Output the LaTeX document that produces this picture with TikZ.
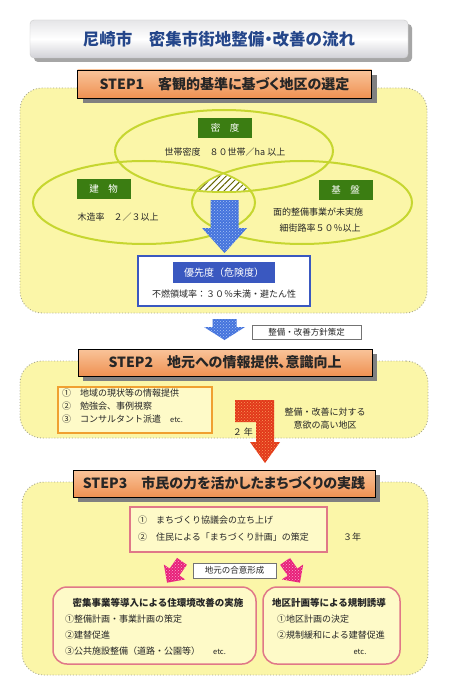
\documentclass[tikz,border=0pt]{standalone}
\usepackage{fontspec}
\setmainfont{Noto Sans CJK JP}
\newfontfamily\jpp{Noto Sans CJK JP}[RawFeature=+palt]
\usetikzlibrary{patterns,patterns.meta,shadows}
\definecolor{areafill}{HTML}{FBF6A8}
\definecolor{areaborder}{HTML}{A8A890}
\definecolor{stepTop}{HTML}{F9C49A}
\definecolor{stepBot}{HTML}{EF9152}
\definecolor{vennline}{HTML}{C6D630}
\definecolor{labgreen}{HTML}{3B7D12}
\definecolor{textc}{HTML}{262626}
\definecolor{titleblue}{HTML}{24468A}
\definecolor{arrblue}{HTML}{4473DC}
\definecolor{arrblueL}{HTML}{A8C4F6}
\definecolor{prioblue}{HTML}{3A58C0}
\definecolor{arrred}{HTML}{E2381A}
\definecolor{arrredL}{HTML}{F89A5A}
\definecolor{arrpink}{HTML}{E8207A}
\definecolor{arrpinkL}{HTML}{F8A8CC}
\definecolor{boxorange}{HTML}{F0A030}
\definecolor{boxpink}{HTML}{E07888}
\definecolor{innerfill}{HTML}{FEFAC8}
\tikzset{
  area/.style={draw=areaborder, dotted, line width=0.9pt, fill=areafill, rounded corners=22pt, inner sep=0},
  stephead/.style={draw=black, line width=0.8pt, top color=stepTop, bottom color=stepBot,
     drop shadow={shadow xshift=5pt, shadow yshift=-5pt, fill=black!50, opacity=1},
     inner sep=0, text=black!85, font=\jpp\bfseries\fontsize{14}{16}\selectfont},
  titlebox/.style={draw=black!20, rounded corners=4pt, top color=blue!10!black!10, bottom color=blue!12!black!18, middle color=white,
     drop shadow={shadow xshift=4pt, shadow yshift=-4pt, fill=black!35, opacity=1},
     inner sep=0, text=titleblue, font=\jpp\bfseries\fontsize{16.5}{18}\selectfont},
  venn/.style={draw=vennline, line width=2pt},
  greenlab/.style={fill=labgreen, text=white, minimum width=54pt, minimum height=20pt, inner sep=0, font=\fontsize{9.5}{11}\selectfont},
  txt/.style={font=\fontsize{9}{11}\selectfont, text=textc, inner sep=0},
  btxt/.style={font=\bfseries\fontsize{9.5}{11}\selectfont, text=textc, inner sep=0},
  etc/.style={font=\fontsize{7.5}{9}\selectfont, text=textc, inner sep=0},
  smallbox/.style={draw=black!55, line width=0.6pt, fill=white, inner sep=0, font=\fontsize{8.5}{10}\selectfont, text=textc},
  blockarrow/.style={preaction={fill=#1}, pattern=crosshatch dots},
}
\begin{document}
\begin{tikzpicture}[x=1pt,y=-1pt]
\useasboundingbox (0,0) rectangle (450,695);
\fill[white] (0,0) rectangle (450,695);

% title
\node[titlebox, minimum width=378pt, minimum height=38pt] (title) at (219,39) {尼崎市　密集市街地整備・改善の流れ};

% ---------- STEP1 area ----------
\node[area, minimum width=407pt, minimum height=225pt] (area1) at (223.5,200.5) {};
\node[stephead, minimum width=294pt, minimum height=28pt] (step1) at (224.5,84) {STEP1　客観的基準に基づく地区の選定};

% venn
\draw[venn] (224,151) ellipse [x radius=109pt, y radius=41pt];
\draw[venn] (144,202.5) ellipse [x radius=111pt, y radius=41.5pt];
\draw[venn] (302,202.5) ellipse [x radius=110pt, y radius=41.5pt];
\begin{scope}
  \clip (224,151) ellipse [x radius=108pt, y radius=40pt];
  \clip (144,202.5) ellipse [x radius=110pt, y radius=40.5pt];
  \clip (302,202.5) ellipse [x radius=109pt, y radius=40.5pt];
  \fill[white] (180,160) rectangle (270,200);
  \fill[pattern={Lines[angle=45,distance=4.5pt,line width=1pt]}, pattern color=olive!80!black] (180,160) rectangle (270,200);
\end{scope}

\node[greenlab] (lab1) at (225,128) {密　度};
\node[txt] (t1) at (225,152) {世帯密度　８０世帯／ha 以上};
\node[greenlab] (lab2) at (103.5,189) {建　物};
\node[txt] (t2) at (118,217) {木造率　２／３以上};
\node[greenlab] (lab3) at (345.5,190) {基　盤};
\node[txt] (t3) at (318,212) {面的整備事業が未実施};
\node[txt] (t4) at (320,228) {細街路率５０％以上};

% blue arrow
\coordinate (a1) at (224.5,200);
\path[blockarrow=arrblue, pattern color=arrblueL]
  (210.5,200) -- (238.5,200) -- (238.5,228) -- (247,228) -- (224.5,253) -- (202,228) -- (210.5,228) -- cycle;

% priority box
\node[draw=prioblue, line width=1.6pt, fill=white, minimum width=172pt, minimum height=50pt, inner sep=0] (prio) at (224,281) {};
\node[fill=prioblue, text=white, minimum width=102pt, minimum height=21pt, inner sep=0, font=\fontsize{10}{12}\selectfont] (priohead) at (224,272.5) {優先度（危険度）};
\node[txt] (priotext) at (224,294) {不燃領域率：３０％未満・避たん性};

% small arrow + policy box
\path[blockarrow=arrblue, pattern color=arrblueL]
  (212.5,319) -- (236.5,319) -- (236.5,327) -- (245,327) -- (224.5,340) -- (204,327) -- (212.5,327) -- cycle;
\node[smallbox, minimum width=109pt, minimum height=14pt] (policy) at (306.5,332) {整備・改善方針策定};

% ---------- STEP2 area ----------
\node[area, minimum width=408pt, minimum height=77pt] (area2) at (224,399.5) {};
\node[stephead, minimum width=294pt, minimum height=27pt] (step2) at (225,362.5) {STEP2　地元への情報提供、意識向上};

\node[draw=boxorange, line width=1.8pt, fill=innerfill, minimum width=154pt, minimum height=46pt, inner sep=0] (info) at (135,410) {};
\node[txt, anchor=west] (i1) at (62,393) {①　地域の現状等の情報提供};
\node[txt, anchor=west] (i2) at (62,406) {②　勉強会、事例視察};
\node[txt, anchor=west] (i3) at (62,419) {③　コンサルタント派遣　{\fontsize{7.5}{9}\selectfont etc.}};

% red bent arrow
\path[blockarrow=arrred, pattern color=arrredL]
  (235,400) -- (274,400) -- (274,442) -- (280,442) -- (265,463) -- (250,442) -- (256,442) -- (256,422) -- (235,422) -- cycle;
\node[txt, anchor=east] (twoyear) at (253,432) {２ 年};
\node[txt] (w1) at (325,412) {整備・改善に対する};
\node[txt] (w2) at (325,425) {意欲の高い地区};

% ---------- STEP3 area ----------
\node[area, minimum width=406pt, minimum height=193pt] (area3) at (225,578.5) {};
\node[stephead, minimum width=302pt, minimum height=27pt] (step3) at (224,483.5) {STEP3　市民の力を活かしたまちづくりの実践};

\node[draw=boxpink, line width=1.5pt, fill=innerfill, minimum width=197pt, minimum height=45pt, inner sep=0] (plan) at (228.5,529.5) {};
\node[txt, anchor=west] (p1) at (138,520) {①　まちづくり協議会の立ち上げ};
\node[txt, anchor=west] (p2) at (138,537) {②　住民による「まちづくり計画」の策定};
\node[txt] (threeyear) at (352,537) {３年};

\node[smallbox, minimum width=83pt, minimum height=15pt] (agree) at (234.5,570.5) {地元の合意形成};

% pink arrows
\begin{scope}[shift={(174.5,572)}, rotate=-35]
  \path[blockarrow=arrpink, pattern color=arrpinkL]
    (-6,-13) -- (6,-13) -- (6,0) -- (13,0) -- (0,13) -- (-13,0) -- (-6,0) -- cycle;
\end{scope}
\begin{scope}[shift={(292.5,572)}, rotate=35]
  \path[blockarrow=arrpink, pattern color=arrpinkL]
    (-6,-13) -- (6,-13) -- (6,0) -- (13,0) -- (0,13) -- (-13,0) -- (-6,0) -- cycle;
\end{scope}

% lower boxes
\node[draw=boxpink, line width=1.5pt, fill=innerfill, rounded corners=14pt, minimum width=203pt, minimum height=77pt, inner sep=0] (jisshi) at (154.5,625.5) {};
\node[btxt] (j0) at (158,603) {密集事業等導入による住環境改善の実施};
\node[txt, anchor=west] (j1) at (65,619) {①整備計画・事業計画の策定};
\node[txt, anchor=west] (j2) at (65,635) {②建替促進};
\node[txt, anchor=west] (j3) at (65,651) {③公共施設整備（道路・公園等）};
\node[etc, anchor=west] (j4) at (213,652) {etc.};

\node[draw=boxpink, line width=1.5pt, fill=innerfill, rounded corners=14pt, minimum width=137pt, minimum height=77pt, inner sep=0] (kisei) at (331.5,625.5) {};
\node[btxt] (k0) at (329,603) {地区計画等による規制誘導};
\node[txt, anchor=west] (k1) at (277,619) {①地区計画の決定};
\node[txt, anchor=west] (k2) at (277,635) {②規制緩和による建替促進};
\node[etc] (k3) at (360,652) {etc.};
\end{tikzpicture}
\end{document}
